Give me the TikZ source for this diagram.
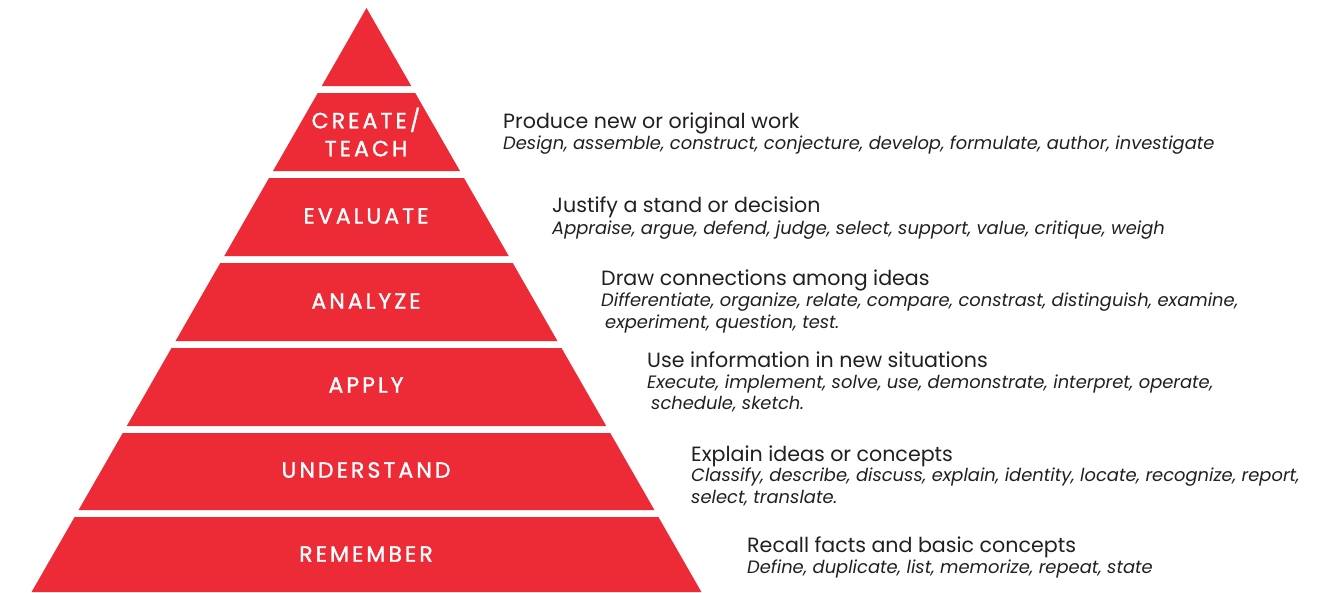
\documentclass[tikz,border=0pt]{standalone}
\usepackage{fontspec}
\setmainfont{Poppins}
\newfontfamily\lvlfont{Poppins}[FakeBold=1.3,LetterSpace=14]
\definecolor{pyrred}{RGB}{237,43,54}
\definecolor{txtgray}{RGB}{35,31,32}
\tikzset{
  pyr/.style={fill=pyrred},
  lvl/.style={text=white,font=\lvlfont\fontsize{22}{28}\selectfont,inner sep=0pt,align=center},
  head/.style={anchor=base west,text=txtgray,font=\fontsize{20.6}{22}\selectfont,inner sep=0pt},
  verbs/.style={anchor=base west,text=txtgray,font=\fontsize{17.9}{22}\selectfont\itshape,inner sep=0pt}
}
\newcommand\pyrband[2]{%
  \fill[pyr] ({\ax-\sl*(#1-\ay)},#1) -- ({\ax+\sl*(#1-\ay)},#1) -- ({\ax+\sl*(#2-\ay)},#2) -- ({\ax-\sl*(#2-\ay)},#2) -- cycle;}
\begin{document}
\begin{tikzpicture}[x=1pt,y=-1pt]
\def\ax{366.5}\def\ay{8}\def\sl{0.5735}
\useasboundingbox[fill=white] (0,0) rectangle (1333,592);
% pyramid
\fill[pyr] (\ax,\ay) -- ({\ax+\sl*(86-\ay)},86) -- ({\ax-\sl*(86-\ay)},86) -- cycle;
\pyrband{93}{171}
\pyrband{178}{256}
\pyrband{263}{341}
\pyrband{348}{426}
\pyrband{433}{510}
\pyrband{517}{592}
% level labels
\node[lvl] (create) at (366,132) {CREATE/\\TEACH};
\node[lvl] (evaluate) at (366,216) {EVALUATE};
\node[lvl] (analyze) at (366,301) {ANALYZE};
\node[lvl] (apply) at (366,385) {APPLY};
\node[lvl] (understand) at (366,470) {UNDERSTAND};
\node[lvl] (remember) at (366,554) {REMEMBER};
% descriptions
\node[head] (h1) at (503,128) {Produce new or original work};
\node[verbs] (v1) at (503,149) {Design, assemble, construct, conjecture, develop, formulate, author, investigate};
\node[head] (h2) at (552,212) {Justify a stand or decision};
\node[verbs] (v2) at (552,234) {Appraise, argue, defend, judge, select, support, value, critique, weigh};
\node[head] (h3) at (601,285) {Draw connections among ideas};
\node[verbs] (v3) at (601,306) {Differentiate, organize, relate, compare, constrast, distinguish, examine,};
\node[verbs] (v3b) at (605,328) {experiment, question, test.};
\node[head] (h4) at (647,367) {Use information in new situations};
\node[verbs] (v4) at (647,388) {Execute, implement, solve, use, demonstrate, interpret, operate,};
\node[verbs] (v4b) at (651,409) {schedule, sketch.};
\node[head] (h5) at (691,461) {Explain ideas or concepts};
\node[verbs] (v5) at (691,481) {Classify, describe, discuss, explain, identity, locate, recognize, report,};
\node[verbs] (v5b) at (691,503) {select, translate.};
\node[head] (h6) at (747,552) {Recall facts and basic concepts};
\node[verbs] (v6) at (747,573) {Define, duplicate, list, memorize, repeat, state};
\end{tikzpicture}
\end{document}
